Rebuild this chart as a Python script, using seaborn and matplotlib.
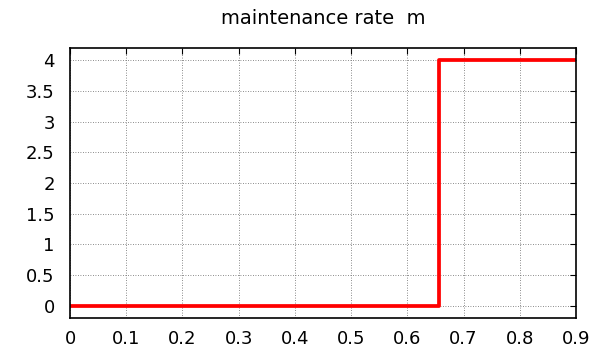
import numpy as np
import pandas as pd
import seaborn as sns
import matplotlib.pyplot as plt

# step data for maintenance rate
x_vals = [0.0, 0.657, 0.9]
m_vals = [0.0, 4.0, 4.0]
x_ticks = [0, 0.1, 0.2, 0.3, 0.4, 0.5, 0.6, 0.7, 0.8, 0.9]
x_labels = ["0", "0.1", "0.2", "0.3", "0.4", "0.5", "0.6", "0.7", "0.8", "0.9"]
y_ticks = [0, 0.5, 1, 1.5, 2, 2.5, 3, 3.5, 4]
y_labels = ["0", "0.5", "1", "1.5", "2", "2.5", "3", "3.5", "4"]

df = pd.DataFrame({"x": x_vals, "m": m_vals})

sns.set_theme(style="white")
plt.rcParams['font.family'] = ['DejaVu Sans']

fig = plt.figure(figsize=(6.01, 3.5), dpi=100)
ax = fig.add_axes([70/601, 32/350, 506/601, 270/350])

sns.lineplot(data=df, x="x", y="m", drawstyle="steps-post", color="#ff0000",
             linewidth=2.7, ax=ax)

ax.set_xlim(0, 0.9)
ax.set_ylim(-0.2, 4.2)
ax.set_xticks(x_ticks)
ax.set_xticklabels(x_labels)
ax.set_yticks(y_ticks)
ax.set_yticklabels(y_labels)
ax.set_xlabel("")
ax.set_ylabel("")
ax.set_title("maintenance rate  m", fontsize=14, pad=17, color="black")

# gnuplot style dotted grid
ax.grid(True, color="#666666", linestyle=(0, (1, 2)), linewidth=0.6)
ax.tick_params(direction="in", top=True, right=True, length=4, width=0.8,
               labelsize=13, colors="black")
ax.tick_params(axis="x", pad=9)
ax.tick_params(axis="y", pad=11)
for s in ax.spines.values():
    s.set_color("black")
    s.set_linewidth(1.2)

plt.savefig("out.png", dpi=100)
